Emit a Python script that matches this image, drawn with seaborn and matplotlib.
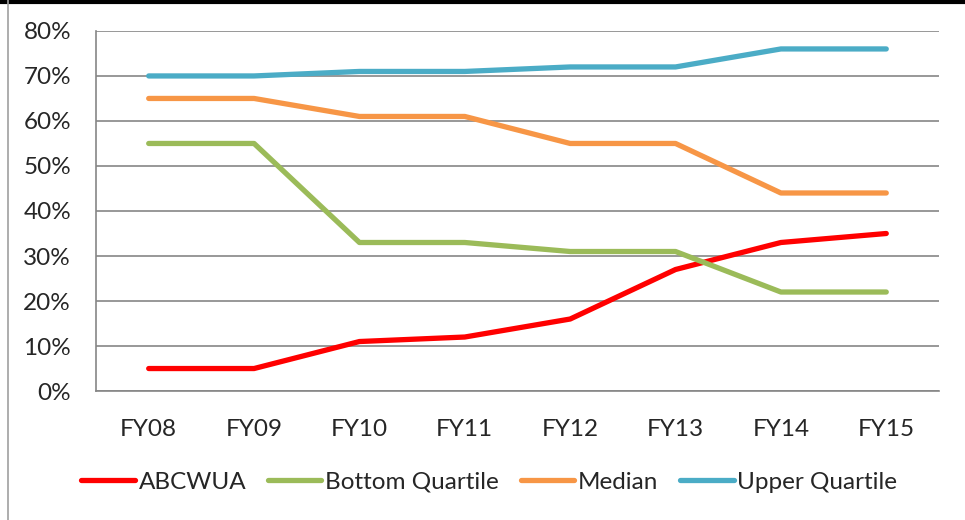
import pandas as pd
import matplotlib.pyplot as plt
import seaborn as sns
from matplotlib.lines import Line2D
from matplotlib.ticker import PercentFormatter, MultipleLocator

years = ["FY08", "FY09", "FY10", "FY11", "FY12", "FY13", "FY14", "FY15"]
abcwua = [5, 5, 11, 12, 16, 27, 33, 35]
bottom_quartile = [55, 55, 33, 33, 31, 31, 22, 22]
median = [65, 65, 61, 61, 55, 55, 44, 44]
upper_quartile = [70, 70, 71, 71, 72, 72, 76, 76]

series = {
    "ABCWUA": abcwua,
    "Bottom Quartile": bottom_quartile,
    "Median": median,
    "Upper Quartile": upper_quartile,
}
colores = ["#FF0000", "#9BBB59", "#F79646", "#4BACC6"]

rows = []
for nombre, valores in series.items():
    for i, v in enumerate(valores):
        rows.append({"Year": i, "Serie": nombre, "Valor": v})
data = pd.DataFrame(rows)

sns.set_style("white")
plt.rcParams["font.family"] = ["Lato", "DejaVu Sans"]
fs = 17.5

fig = plt.figure(figsize=(9.65, 5.2), dpi=100)
ax = fig.add_axes([0.0995, 0.248, 0.8735, 0.6925])

sns.lineplot(data=data, x="Year", y="Valor", hue="Serie", palette=colores,
             linewidth=3.8, ax=ax, legend=False, solid_capstyle="round",
             solid_joinstyle="round", sort=False)

ax.set_xlim(-0.5, len(years) - 0.5)
ax.set_ylim(0, 80)
ax.yaxis.set_major_locator(MultipleLocator(10))
ax.yaxis.set_major_formatter(PercentFormatter(decimals=0))
ax.set_xticks(range(len(years)))
ax.set_xticklabels(years)
ax.set_xticks([i - 0.5 for i in range(len(years) + 1)], minor=True)
ax.tick_params(axis="x", which="major", length=0, pad=20, labelsize=fs)
ax.tick_params(axis="x", which="minor", length=6.5, width=1.2, color="#868686")
ax.tick_params(axis="y", length=6, width=1.2, color="#868686", labelsize=fs, pad=12)
ax.grid(axis="y", color="#868686", linewidth=1.2)
ax.set_axisbelow(True)
ax.set_xlabel("")
ax.set_ylabel("")
for lado in ["top", "right"]:
    ax.spines[lado].set_visible(False)
for lado in ["left", "bottom"]:
    ax.spines[lado].set_color("#868686")
    ax.spines[lado].set_linewidth(1.2)

handles = [Line2D([0], [0], color=c, linewidth=3.8, solid_capstyle="round") for c in colores]
fig.legend(handles, list(series.keys()), loc="center", bbox_to_anchor=(0.507, 0.073),
           ncol=4, frameon=False, fontsize=fs, handlelength=2.2, handletextpad=0.15,
           columnspacing=0.9)

# borde del grafico
fig.add_artist(Line2D([0, 1], [0.997, 0.997], color="black", linewidth=3, transform=fig.transFigure))
fig.add_artist(Line2D([0.0085, 0.0085], [0, 1], color="#A0A0A0", linewidth=1.2, transform=fig.transFigure))

plt.savefig("out.png", dpi=100)
